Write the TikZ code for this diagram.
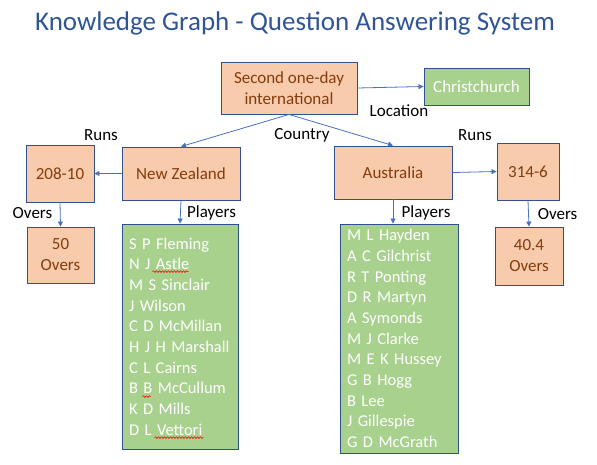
\documentclass[tikz,border=0pt]{standalone}
\usepackage{fontspec}
\setmainfont{Carlito}
\usetikzlibrary{arrows.meta,decorations.pathmorphing}
\definecolor{ink}{HTML}{2F528F}
\definecolor{titleblue}{HTML}{2F5597}
\definecolor{peach}{HTML}{F8CBAD}
\definecolor{rust}{HTML}{843C0C}
\definecolor{leaf}{HTML}{A9D18E}
\definecolor{wire}{HTML}{4472C4}

\begin{document}
\begin{tikzpicture}[x=1pt,y=-1pt,
      entity/.style={draw=ink,line width=.9pt,fill=peach,text=rust,align=center,
                    inner sep=0pt,font=\fontsize{17}{21}\selectfont},
      answer/.style={draw=ink,line width=.9pt,fill=leaf,text=white,align=center,
                    inner sep=0pt,font=\fontsize{17}{21}\selectfont},
      roster/.style={answer,align=left,inner xsep=7pt,font=\fontsize{16.5}{20.7}\selectfont},
      link/.style={-{Triangle[length=5pt,width=5pt]},draw=wire,line width=.8pt},
      relname/.style={font=\fontsize{17}{21}\selectfont,inner sep=0pt},
      spell/.style={draw=red,line width=.6pt,decorate,
                    decoration={snake,amplitude=.8pt,segment length=3pt}}]
    \useasboundingbox (0,0) rectangle (597,464);
    \node[anchor=base,text=titleblue,font=\fontsize{27}{31}\selectfont] (title) at (295,30) {Knowledge Graph - Question Answering System};
    \node[entity,minimum width=136pt,minimum height=52pt] (odi) at (289,88) {Second one-day\\international};
    \node[answer,minimum width=105pt,minimum height=37pt] (city) at (476.5,86.5) {Christchurch};
    \draw[link] (odi.east) -- (city.west);
    \node[relname] (loc) at (399,111) {Location};
    % teams
    \node[entity,minimum width=118pt,minimum height=53pt] (nz) at (181,173.5) {New Zealand};
    \node[entity,minimum width=118pt,minimum height=53pt] (aus) at (393,172.5) {Australia};
    \draw[link] (odi.south) -- (nz.north);
    \draw[link] (odi.south) -- (aus.north);
    \node[relname] (ctry) at (302,135) {Country};
    % runs and overs
    \node[entity,minimum width=68pt,minimum height=57pt] (nzruns) at (60,173.5) {208-10};
    \node[entity,minimum width=62pt,minimum height=57pt] (ausruns) at (528,171.5) {314-6};
    \draw[link] (nz.west) -- (nzruns.east);
    \draw[link] (aus.east) -- (ausruns.west);
    \node[relname] (nzrl) at (101,135) {Runs};
    \node[relname] (ausrl) at (475,135) {Runs};
    \node[entity,minimum width=67pt,minimum height=56pt] (nzovers) at (60.5,255) {50\\Overs};
    \node[entity,minimum width=68pt,minimum height=58pt] (ausovers) at (529,256) {40.4\\Overs};
    \draw[link] (nzruns.south) -- (nzovers.north);
    \draw[link] (ausruns.south) -- (ausovers.north);
    \node[relname] (nzol) at (32.5,213) {Overs};
    \node[relname] (ausol) at (557.5,214) {Overs};
    % players
    \node[roster,text width=102pt,minimum height=225pt] (nzteam) at (180,336.5) {S P Fleming\\N J Astle\\M S Sinclair\\J Wilson\\C D McMillan\\H J H Marshall\\C L Cairns\\B B McCullum\\K D Mills\\D L Vettori};
    \node[roster,text width=104pt,minimum height=229pt] (austeam) at (399,338.5) {M L Hayden\\A C Gilchrist\\R T Ponting\\D R Martyn\\A Symonds\\M J Clarke\\M E K Hussey\\G B Hogg\\B Lee\\J Gillespie\\G D McGrath};
    \draw[link] (nz.south) -- (nzteam.north);
    \draw[link] (aus.south) -- (aus.south |- austeam.north);
    \node[relname] (nzpl) at (211.5,213) {Players};
    \node[relname] (auspl) at (426,213) {Players};
    % spell-check marks
    \draw[spell] ([xshift=31pt,yshift=-48pt]nzteam.north west) -- ++(36,0);
    \draw[spell] ([xshift=21pt,yshift=-173pt]nzteam.north west) -- ++(8,0);
    \draw[spell] ([xshift=33pt,yshift=-214pt]nzteam.north west) -- ++(49,0);
\end{tikzpicture}
\end{document}
